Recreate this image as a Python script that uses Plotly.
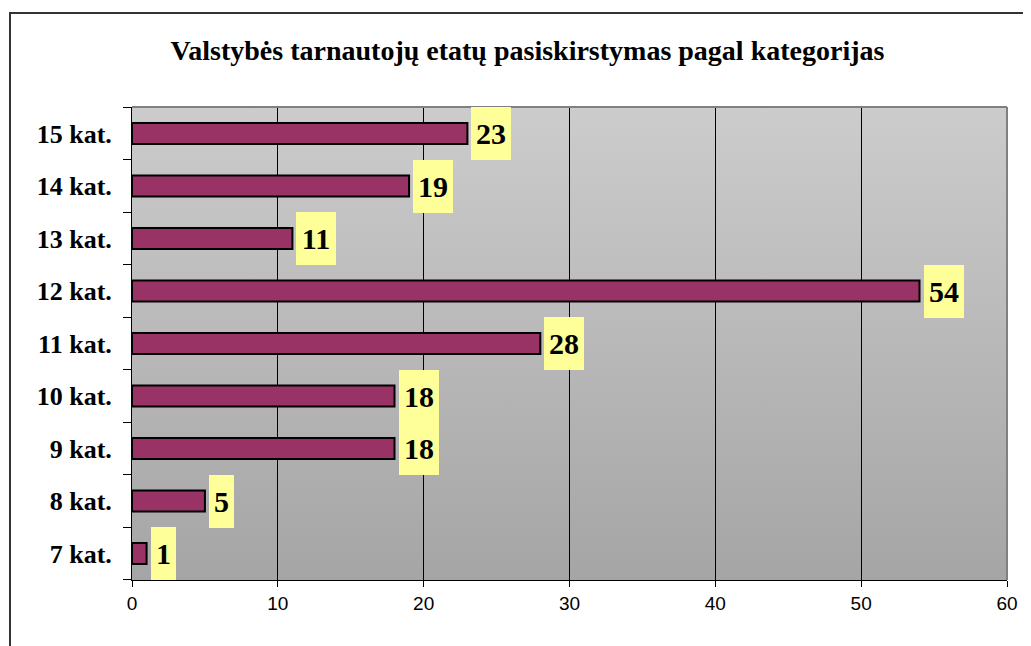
import base64
import plotly.graph_objects as go

categories = ["7 kat.", "8 kat.", "9 kat.", "10 kat.", "11 kat.", "12 kat.", "13 kat.", "14 kat.", "15 kat."]
values = [1, 5, 18, 18, 28, 54, 11, 19, 23]
x_ticks = [0, 10, 20, 30, 40, 50, 60]
title = "Valstybės tarnautojų etatų pasiskirstymas pagal kategorijas"

# page has an 8px body margin; figure coordinates are offset accordingly
OFF = 8
W, H = 1031 - OFF, 646 - OFF
L, T = 132 - OFF, 107 - OFF
R = W - (1007 - OFF)
B = H - (580 - OFF)
pw = W - L - R
ph = H - T - B

svg = ('<svg xmlns="http://www.w3.org/2000/svg" width="100" height="100" preserveAspectRatio="none">'
       '<defs><linearGradient id="g" x1="0" y1="0" x2="0" y2="1">'
       '<stop offset="0" stop-color="#cccccc"/><stop offset="1" stop-color="#a5a5a5"/>'
       '</linearGradient></defs><rect width="100" height="100" fill="url(#g)"/></svg>')
svg_uri = "data:image/svg+xml;base64," + base64.b64encode(svg.encode()).decode()

fig = go.Figure()
fig.add_trace(go.Bar(
    x=values, y=categories, orientation="h",
    marker=dict(color="#993366", line=dict(color="#000000", width=2)),
    hoverinfo="skip",
))

annotations = []
for c, v in zip(categories, values):
    annotations.append(dict(
        x=v, y=c, xref="x", yref="y", text=f"<b>{v}</b>", showarrow=False,
        xanchor="left", yanchor="middle", xshift=4,
        font=dict(family="Liberation Serif", size=30, color="#000000"),
        bgcolor="#FFFF99", borderpad=0, borderwidth=0,
        width=(40 if v >= 10 else 25), height=53, align="center", valign="middle",
    ))

fig.update_layout(
    width=W, height=H,
    margin=dict(l=L, r=R, t=T, b=B),
    paper_bgcolor="#ffffff",
    plot_bgcolor="rgba(0,0,0,0)",
    showlegend=False,
    bargap=0.6,
    title=dict(text=f"<b>{title}</b>", x=(527.5 - OFF) / W, xref="container", xanchor="center",
               y=1 - (50 - OFF) / H, yanchor="middle",
               font=dict(family="Liberation Serif", size=28, color="#000000")),
    xaxis=dict(range=[0, 60], tickvals=x_ticks, showgrid=True, gridcolor="#000000", gridwidth=1,
               showline=True, linecolor="#000000", linewidth=1,
               ticks="outside", ticklen=6, tickcolor="#000000",
               tickfont=dict(family="Liberation Sans", size=19, color="#000000"),
               zeroline=False, fixedrange=True),
    yaxis=dict(type="category", categoryorder="array", categoryarray=categories,
               showgrid=False, showline=True, linecolor="#000000", linewidth=1,
               ticks="outside", ticklen=8, tickcolor="#000000", tickson="boundaries",
               tickfont=dict(family="Liberation Serif", size=26, color="#000000"),
               ticklabelstandoff=14, fixedrange=True),
    annotations=annotations,
    images=[dict(source=svg_uri, xref="paper", yref="paper", x=0, y=1, sizex=1, sizey=1,
                 sizing="stretch", xanchor="left", yanchor="top", layer="below")],
    shapes=[
        dict(type="line", xref="paper", yref="paper", x0=0, x1=1, y0=1, y1=1,
             line=dict(color="#808080", width=2)),
        dict(type="line", xref="paper", yref="paper", x0=1, x1=1, y0=0, y1=1,
             line=dict(color="#808080", width=2)),
        dict(type="rect", xref="paper", yref="paper",
             x0=(10 - OFF - L) / pw, x1=(W + 20 - L) / pw,
             y0=-(H + 20 - T - ph) / ph, y1=1 + (T - (13 - OFF)) / ph,
             line=dict(color="#333333", width=2), fillcolor="rgba(0,0,0,0)", layer="above"),
    ],
)
fig.update_yaxes(tickprefix="<b>", ticksuffix="</b>")

fig.write_html("out.html")
